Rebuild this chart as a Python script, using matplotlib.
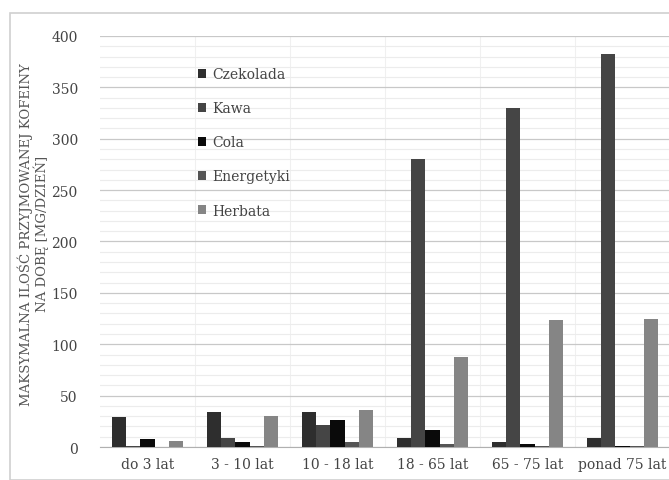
import numpy as np
import matplotlib.pyplot as plt
from matplotlib.patches import Rectangle

# age groups and max caffeine intake per source [mg/day]
groups = ['do 3 lat', '3 - 10 lat', '10 - 18 lat', '18 - 65 lat', '65 - 75 lat', 'ponad 75 lat']
series = ['Czekolada', 'Kawa', 'Cola', 'Energetyki', 'Herbata']
czekolada = [29, 34, 34, 9, 4.5, 9]
kawa = [1, 9, 21, 280, 330, 382]
cola = [8, 5, 26, 17, 2.5, 1]
energetyki = [0, 1, 4.5, 3, 0.5, 0.5]
herbata = [6, 30, 36, 88, 124, 125]

values = [czekolada, kawa, cola, energetyki, herbata]
colors = ['#2e2e2e', '#454545', '#0a0a0a', '#555555', '#858585']

plt.rcParams['font.family'] = ['DejaVu Serif']

fig = plt.figure(figsize=(6.69, 4.81), dpi=100)
fig.patches.append(Rectangle((10 / 669, 0.0), 1.0, 1 - 14 / 481, transform=fig.transFigure,
                             fill=False, edgecolor='#d0d0d0', linewidth=1.2))
ax = fig.add_axes([100 / 669, 1 - 448 / 481, 570 / 669, (448 - 37) / 481])

x = np.arange(len(groups))
width = 0.148
for i, (name, vals) in enumerate(zip(series, values)):
    ax.bar(x + (i - 2) * width, vals, width, color=colors[i], label=name, zorder=3)

ax.set_xlim(-0.5, len(groups) - 0.5)
ax.set_ylim(0, 400)
ax.set_yticks(np.arange(0, 401, 50))
ax.set_yticks(np.arange(0, 401, 10), minor=True)
ax.grid(axis='y', which='major', color='#c8c8c8', linewidth=0.9, zorder=0)
ax.grid(axis='y', which='minor', color='#ececec', linewidth=0.8, zorder=0)
for b in np.arange(0.5, len(groups) - 0.5, 1):
    ax.axvline(b, color='#f0f0f0', linewidth=0.8, zorder=0)

ax.set_xticks(x)
ax.set_xticklabels(groups)
ax.tick_params(axis='both', which='both', length=0, colors='#444444', labelsize=10)
ax.tick_params(axis='y', pad=16)
ax.tick_params(axis='x', pad=7)
for s in ['top', 'right', 'left']:
    ax.spines[s].set_visible(False)
ax.spines['bottom'].set_color('#b0b0b0')

ax.set_ylabel('MAKSYMALNA ILOŚĆ PRZYJMOWANEJ KOFEINY\nNA DOBĘ [MG/DZIEŃ]',
              fontsize=9.5, color='#555555', linespacing=1.0)
ax.yaxis.set_label_coords(-0.09, 0.52)

leg = ax.legend(loc='upper left', bbox_to_anchor=(0.15, 0.955), frameon=False,
                handlelength=0.6, handleheight=0.6, handletextpad=0.4,
                labelspacing=1.45, fontsize=10)
for t in leg.get_texts():
    t.set_color('#444444')

fig.savefig('out.png', dpi=100)
